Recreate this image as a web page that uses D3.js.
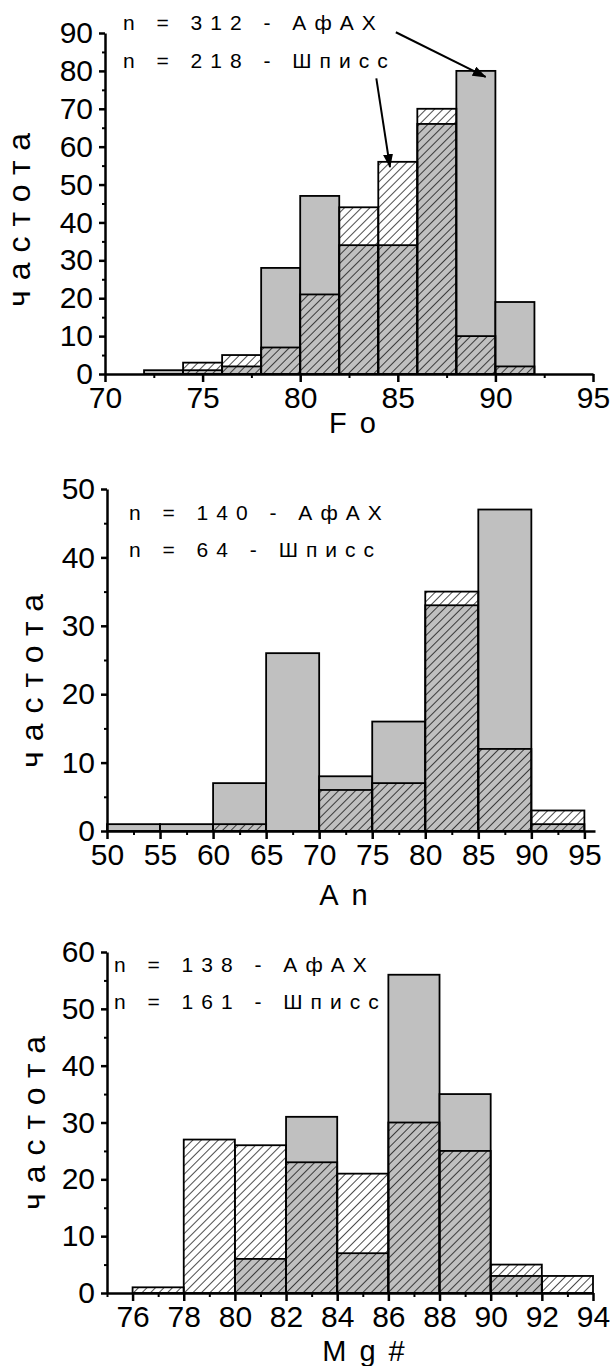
<!DOCTYPE html>
<html>
<head>
<meta charset="utf-8">
<script src="https://cdnjs.cloudflare.com/ajax/libs/d3/7.8.5/d3.min.js"></script>
<style>
    body { margin: 0; background: #fff; }
    svg { display: block; }
</style>
</head>
<body>
<script>
const SVG_WIDTH = 614;
const SVG_HEIGHT = 1366;

const FONT = "'Liberation Sans', Arial, sans-serif";
const GREY = "#c0c0c0";

// Fo, bins of 2
const fo_bins = [72, 74, 76, 78, 80, 82, 84, 86, 88, 90];
const fo_afax = [1, 1, 2, 28, 47, 34, 34, 66, 80, 19];
const fo_shpiss = [0, 3, 5, 7, 21, 44, 56, 70, 10, 2];
const fo_x_ticks = [70, 75, 80, 85, 90, 95];
const fo_y_ticks = [0, 10, 20, 30, 40, 50, 60, 70, 80, 90];
const fo_legend = ["n = 312 - АфАХ", "n = 218 - Шписс"];
// arrows: [from, to] in Fo / count units
const fo_arrows = [
    [[84.9, 90.2], [89.5, 78.4]],
    [[83.9, 78.0], [84.6, 54.6]]
];

// An, bins of 5
const an_bins = [50, 55, 60, 65, 70, 75, 80, 85, 90];
const an_afax = [1, 1, 7, 26, 8, 16, 33, 47, 1];
const an_shpiss = [0, 0, 1, 0, 6, 7, 35, 12, 3];
const an_x_ticks = [50, 55, 60, 65, 70, 75, 80, 85, 90, 95];
const an_y_ticks = [0, 10, 20, 30, 40, 50];
const an_legend = ["n = 140 - АфАХ", "n = 64 - Шписс"];

// Mg#, bins of 2
const mg_bins = [76, 78, 80, 82, 84, 86, 88, 90, 92];
const mg_afax = [0, 0, 6, 31, 7, 56, 35, 3, 0];
const mg_shpiss = [1, 27, 26, 23, 21, 30, 25, 5, 3];
const mg_x_ticks = [76, 78, 80, 82, 84, 86, 88, 90, 92, 94];
const mg_y_ticks = [0, 10, 20, 30, 40, 50, 60];
const mg_legend = ["n = 138 - АфАХ", "n = 161 - Шписс"];

const panels = [
    {
        bins: fo_bins, binWidth: 2, afax: fo_afax, shpiss: fo_shpiss,
        xDomain: [70, 95], yDomain: [0, 90],
        xTicks: fo_x_ticks, xMinorStep: 2.5, yTicks: fo_y_ticks, yMinorStep: 5,
        legend: fo_legend, arrows: fo_arrows, xTitle: "Fo",
        layout: {left: 105, right: 593, top: 33, bottom: 374,
                 legendX: 123, legendY: [30, 68],
                 yTitleX: 30, yTitleY: 215, xTitleX: 359, xTitleY: 433}
    },
    {
        bins: an_bins, binWidth: 5, afax: an_afax, shpiss: an_shpiss,
        xDomain: [50, 96], yDomain: [0, 50],
        xTicks: an_x_ticks, xMinorStep: 2.5, yTicks: an_y_ticks, yMinorStep: 5,
        legend: an_legend, arrows: [], xTitle: "An",
        layout: {left: 107, right: 595, top: 489, bottom: 831,
                 legendX: 129, legendY: [520, 557],
                 yTitleX: 43, yTitleY: 676, xTitleX: 350, xTitleY: 905}
    },
    {
        bins: mg_bins, binWidth: 2, afax: mg_afax, shpiss: mg_shpiss,
        xDomain: [75, 94], yDomain: [0, 60],
        xTicks: mg_x_ticks, xMinorStep: 1, yTicks: mg_y_ticks, yMinorStep: 5,
        legend: mg_legend, arrows: [], xTitle: "Mg#",
        layout: {left: 107, right: 593, top: 952, bottom: 1293,
                 legendX: 114, legendY: [972, 1009],
                 yTitleX: 45, yTitleY: 1118, xTitleX: 370, xTitleY: 1361}
    }
];

const svg = d3.select("body")
    .append("svg")
    .attr("width", SVG_WIDTH)
    .attr("height", SVG_HEIGHT);

const defs = svg.append("defs");

// "/" hatching for the Шписс bars
defs.append("pattern")
    .attr("id", "hatch")
    .attr("patternUnits", "userSpaceOnUse")
    .attr("width", 6)
    .attr("height", 6)
    .attr("patternTransform", "rotate(45)")
    .append("line")
    .attr("x1", 0).attr("y1", 0)
    .attr("x2", 0).attr("y2", 6)
    .attr("stroke", "black")
    .attr("stroke-width", 1.4);

defs.append("marker")
    .attr("id", "arrowhead")
    .attr("markerUnits", "userSpaceOnUse")
    .attr("markerWidth", 14)
    .attr("markerHeight", 10)
    .attr("refX", 13)
    .attr("refY", 5)
    .attr("orient", "auto")
    .append("path")
    .attr("d", "M0,0 L14,5 L0,10 Z")
    .attr("fill", "black");

function barData(bins, width, values){
    return bins
        .map((b, i) => ({x0: b, x1: b + width, v: values[i]}))
        .filter(d => d.v > 0);
}

function drawBars(target, data, x, y, fill){
    target.append("g")
        .selectAll("rect")
        .data(data)
        .join("rect")
        .attr("x", d => x(d.x0))
        .attr("y", d => y(d.v))
        .attr("width", d => x(d.x1) - x(d.x0))
        .attr("height", d => y(0) - y(d.v))
        .attr("fill", fill)
        .attr("stroke", "black")
        .attr("stroke-width", 1.8);
}

function styleAxis(g, width){
    g.attr("font-family", FONT).attr("font-size", 30);
    g.select(".domain").attr("stroke-width", width);
    g.selectAll(".tick line").attr("stroke-width", width);
    g.selectAll(".tick text").attr("fill", "black");
}

function drawPanel(target, p){
    const L = p.layout;

    const x = d3.scaleLinear().domain(p.xDomain).range([L.left, L.right]);
    const y = d3.scaleLinear().domain(p.yDomain).range([L.bottom, L.top]);

    const holder = target.append("g");

    // grey АфАХ first, hatched Шписс laid over it
    drawBars(holder, barData(p.bins, p.binWidth, p.afax), x, y, GREY);
    drawBars(holder, barData(p.bins, p.binWidth, p.shpiss), x, y, "url(#hatch)");

    const lastTick = p.xTicks[p.xTicks.length - 1];
    const xMinor = d3.range(p.xDomain[0], lastTick + 0.001, p.xMinorStep)
        .filter(v => !p.xTicks.includes(v));
    const yMinor = d3.range(p.yDomain[0], p.yDomain[1] + 0.001, p.yMinorStep)
        .filter(v => !p.yTicks.includes(v));

    holder.append("g")
        .attr("transform", `translate(0,${L.bottom})`)
        .call(d3.axisBottom(x).tickValues(xMinor).tickSize(4).tickSizeOuter(0).tickFormat(""))
        .call(g => { styleAxis(g, 2); g.select(".domain").remove(); });

    holder.append("g")
        .attr("transform", `translate(${L.left},0)`)
        .call(d3.axisLeft(y).tickValues(yMinor).tickSize(3).tickSizeOuter(0).tickFormat(""))
        .call(g => { styleAxis(g, 2); g.select(".domain").remove(); });

    holder.append("g")
        .attr("transform", `translate(0,${L.bottom})`)
        .call(d3.axisBottom(x).tickValues(p.xTicks).tickSize(8).tickSizeOuter(0).tickPadding(5))
        .call(g => styleAxis(g, 2.5));

    holder.append("g")
        .attr("transform", `translate(${L.left},0)`)
        .call(d3.axisLeft(y).tickValues(p.yTicks).tickSize(6).tickSizeOuter(0).tickPadding(6))
        .call(g => styleAxis(g, 2.5));

    // legend lines
    holder.selectAll(".legend")
        .data(p.legend)
        .join("text")
        .attr("class", "legend")
        .attr("x", L.legendX)
        .attr("y", (d, i) => L.legendY[i])
        .style("font-family", FONT)
        .style("font-size", "21px")
        .style("letter-spacing", "8px")
        .text(d => d);

    holder.selectAll(".arrow")
        .data(p.arrows)
        .join("line")
        .attr("class", "arrow")
        .attr("x1", d => x(d[0][0]))
        .attr("y1", d => y(d[0][1]))
        .attr("x2", d => x(d[1][0]))
        .attr("y2", d => y(d[1][1]))
        .attr("stroke", "black")
        .attr("stroke-width", 2)
        .attr("marker-end", "url(#arrowhead)");

    holder.append("text")
        .attr("transform", `translate(${L.yTitleX},${L.yTitleY}) rotate(-90)`)
        .attr("text-anchor", "middle")
        .style("font-family", FONT)
        .style("font-size", "32px")
        .style("letter-spacing", "10px")
        .text("частота");

    holder.append("text")
        .attr("x", L.xTitleX)
        .attr("y", L.xTitleY)
        .attr("text-anchor", "middle")
        .style("font-family", FONT)
        .style("font-size", "29px")
        .style("letter-spacing", "13px")
        .text(p.xTitle);
}

panels.forEach(p => drawPanel(svg, p));
</script>
</body>
</html>
